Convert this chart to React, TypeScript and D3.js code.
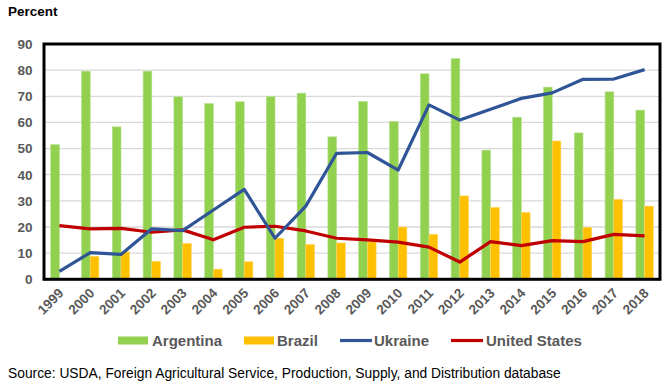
import React from "react";
import * as d3 from "d3";

const years = ["1999","2000","2001","2002","2003","2004","2005","2006","2007","2008","2009","2010","2011","2012","2013","2014","2015","2016","2017","2018"];
const argentina = [51.5,79.6,58.3,79.6,69.8,67.2,67.9,69.9,71.2,54.5,68.0,60.4,78.6,84.4,49.4,62.0,73.5,56.0,71.7,64.7];
const brazil = [0.3,8.8,10.5,6.9,13.7,3.9,6.7,15.7,13.3,13.9,14.3,20.0,17.2,31.9,27.5,25.6,52.9,19.9,30.6,28.0];
const ukraine = [3.0,10.2,9.5,19.3,18.6,26.5,34.4,15.7,28.0,48.2,48.5,41.8,66.7,60.9,65.0,69.2,71.3,76.5,76.6,80.2];
const unitedStates = [20.5,19.3,19.5,18.0,18.9,15.1,19.9,20.3,18.5,15.7,15.1,14.2,12.3,6.6,14.4,12.9,14.8,14.4,17.2,16.6];
const yTicks = [0,10,20,30,40,50,60,70,80,90];

const W = 666, H = 383;
const L = 44, R = 660, T = 44, B = 279.3;
const FONT = "'Liberation Sans', Arial, sans-serif";
const GRAY = "#595959";

export default function App() {
  const x = d3.scaleBand<string>().domain(years).range([L, R]).padding(0);
  const y = d3.scaleLinear().domain([0, 90]).range([B, T]);
  const bw = 8.7;
  const sub = d3.scaleBand<string>().domain(["a", "b"]).range([x.bandwidth() / 2 - bw, x.bandwidth() / 2 + bw]);
  const cx = (yr: string) => (x(yr) as number) + x.bandwidth() / 2;
  const line = d3.line<number>().x((_, i) => cx(years[i])).y((v) => y(v));

  return (
    <svg width={W} height={H} style={{ position: "absolute", left: 0, top: 0 }} fontFamily={FONT}>
      <rect width={W} height={H} fill="#fff" />
      <text x={8} y={16} fontSize={13.5} fontWeight="bold" fill="#000">Percent</text>
      {yTicks.filter((t) => t > 0 && t < 90).map((t) => (
        <line key={"g" + t} x1={L} x2={R} y1={y(t)} y2={y(t)} stroke="#d9d9d9" strokeWidth={1.3} />
      ))}
      {yTicks.map((t) => (
        <text key={"y" + t} x={32.5} y={y(t)} dy="0.36em" textAnchor="end" fontSize={13.5} fontWeight="bold" fill={GRAY}>{t}</text>
      ))}
      {years.map((yr, i) => (
        <g key={"b" + yr} transform={`translate(${x(yr)},0)`}>
          <rect x={sub("a")} width={sub.bandwidth()} y={y(argentina[i])} height={B - y(argentina[i])} fill="#92d050" stroke="#b4e08a" strokeWidth={0.6} />
          <rect x={sub("b")} width={sub.bandwidth()} y={y(brazil[i])} height={B - y(brazil[i])} fill="#ffc000" stroke="#ffd666" strokeWidth={0.6} />
        </g>
      ))}
      <path d={line(unitedStates) || ""} fill="none" stroke="#c00000" strokeWidth={3.2} strokeLinejoin="round" />
      <path d={line(ukraine) || ""} fill="none" stroke="#2f5597" strokeWidth={3.2} strokeLinejoin="round" />
      <rect x={L} y={T} width={R - L} height={B - T} fill="none" stroke="#000" strokeWidth={3} />
      {years.map((yr) => (
        <text key={"x" + yr} transform={`translate(${cx(yr) + 5},${294}) rotate(-45)`} textAnchor="end" fontSize={13.5} fontWeight="bold" fill={GRAY}>{yr}</text>
      ))}
      <g fontSize={15} fontWeight="bold" fill={GRAY}>
        <rect x={118} y={336.5} width={30} height={8} fill="#92d050" />
        <text x={152} y={346}>Argentina</text>
        <rect x={244} y={336.5} width={30} height={8} fill="#ffc000" />
        <text x={277} y={346}>Brazil</text>
        <line x1={340} x2={372} y1={340.5} y2={340.5} stroke="#2f5597" strokeWidth={3.2} />
        <text x={374} y={346}>Ukraine</text>
        <line x1={451} x2={483} y1={340.5} y2={340.5} stroke="#c00000" strokeWidth={3.2} />
        <text x={486} y={346}>United States</text>
      </g>
      <text x={8} y={378} fontSize={13.8} fill="#000">Source: USDA, Foreign Agricultural Service, Production, Supply, and Distribution database</text>
    </svg>
  );
}
